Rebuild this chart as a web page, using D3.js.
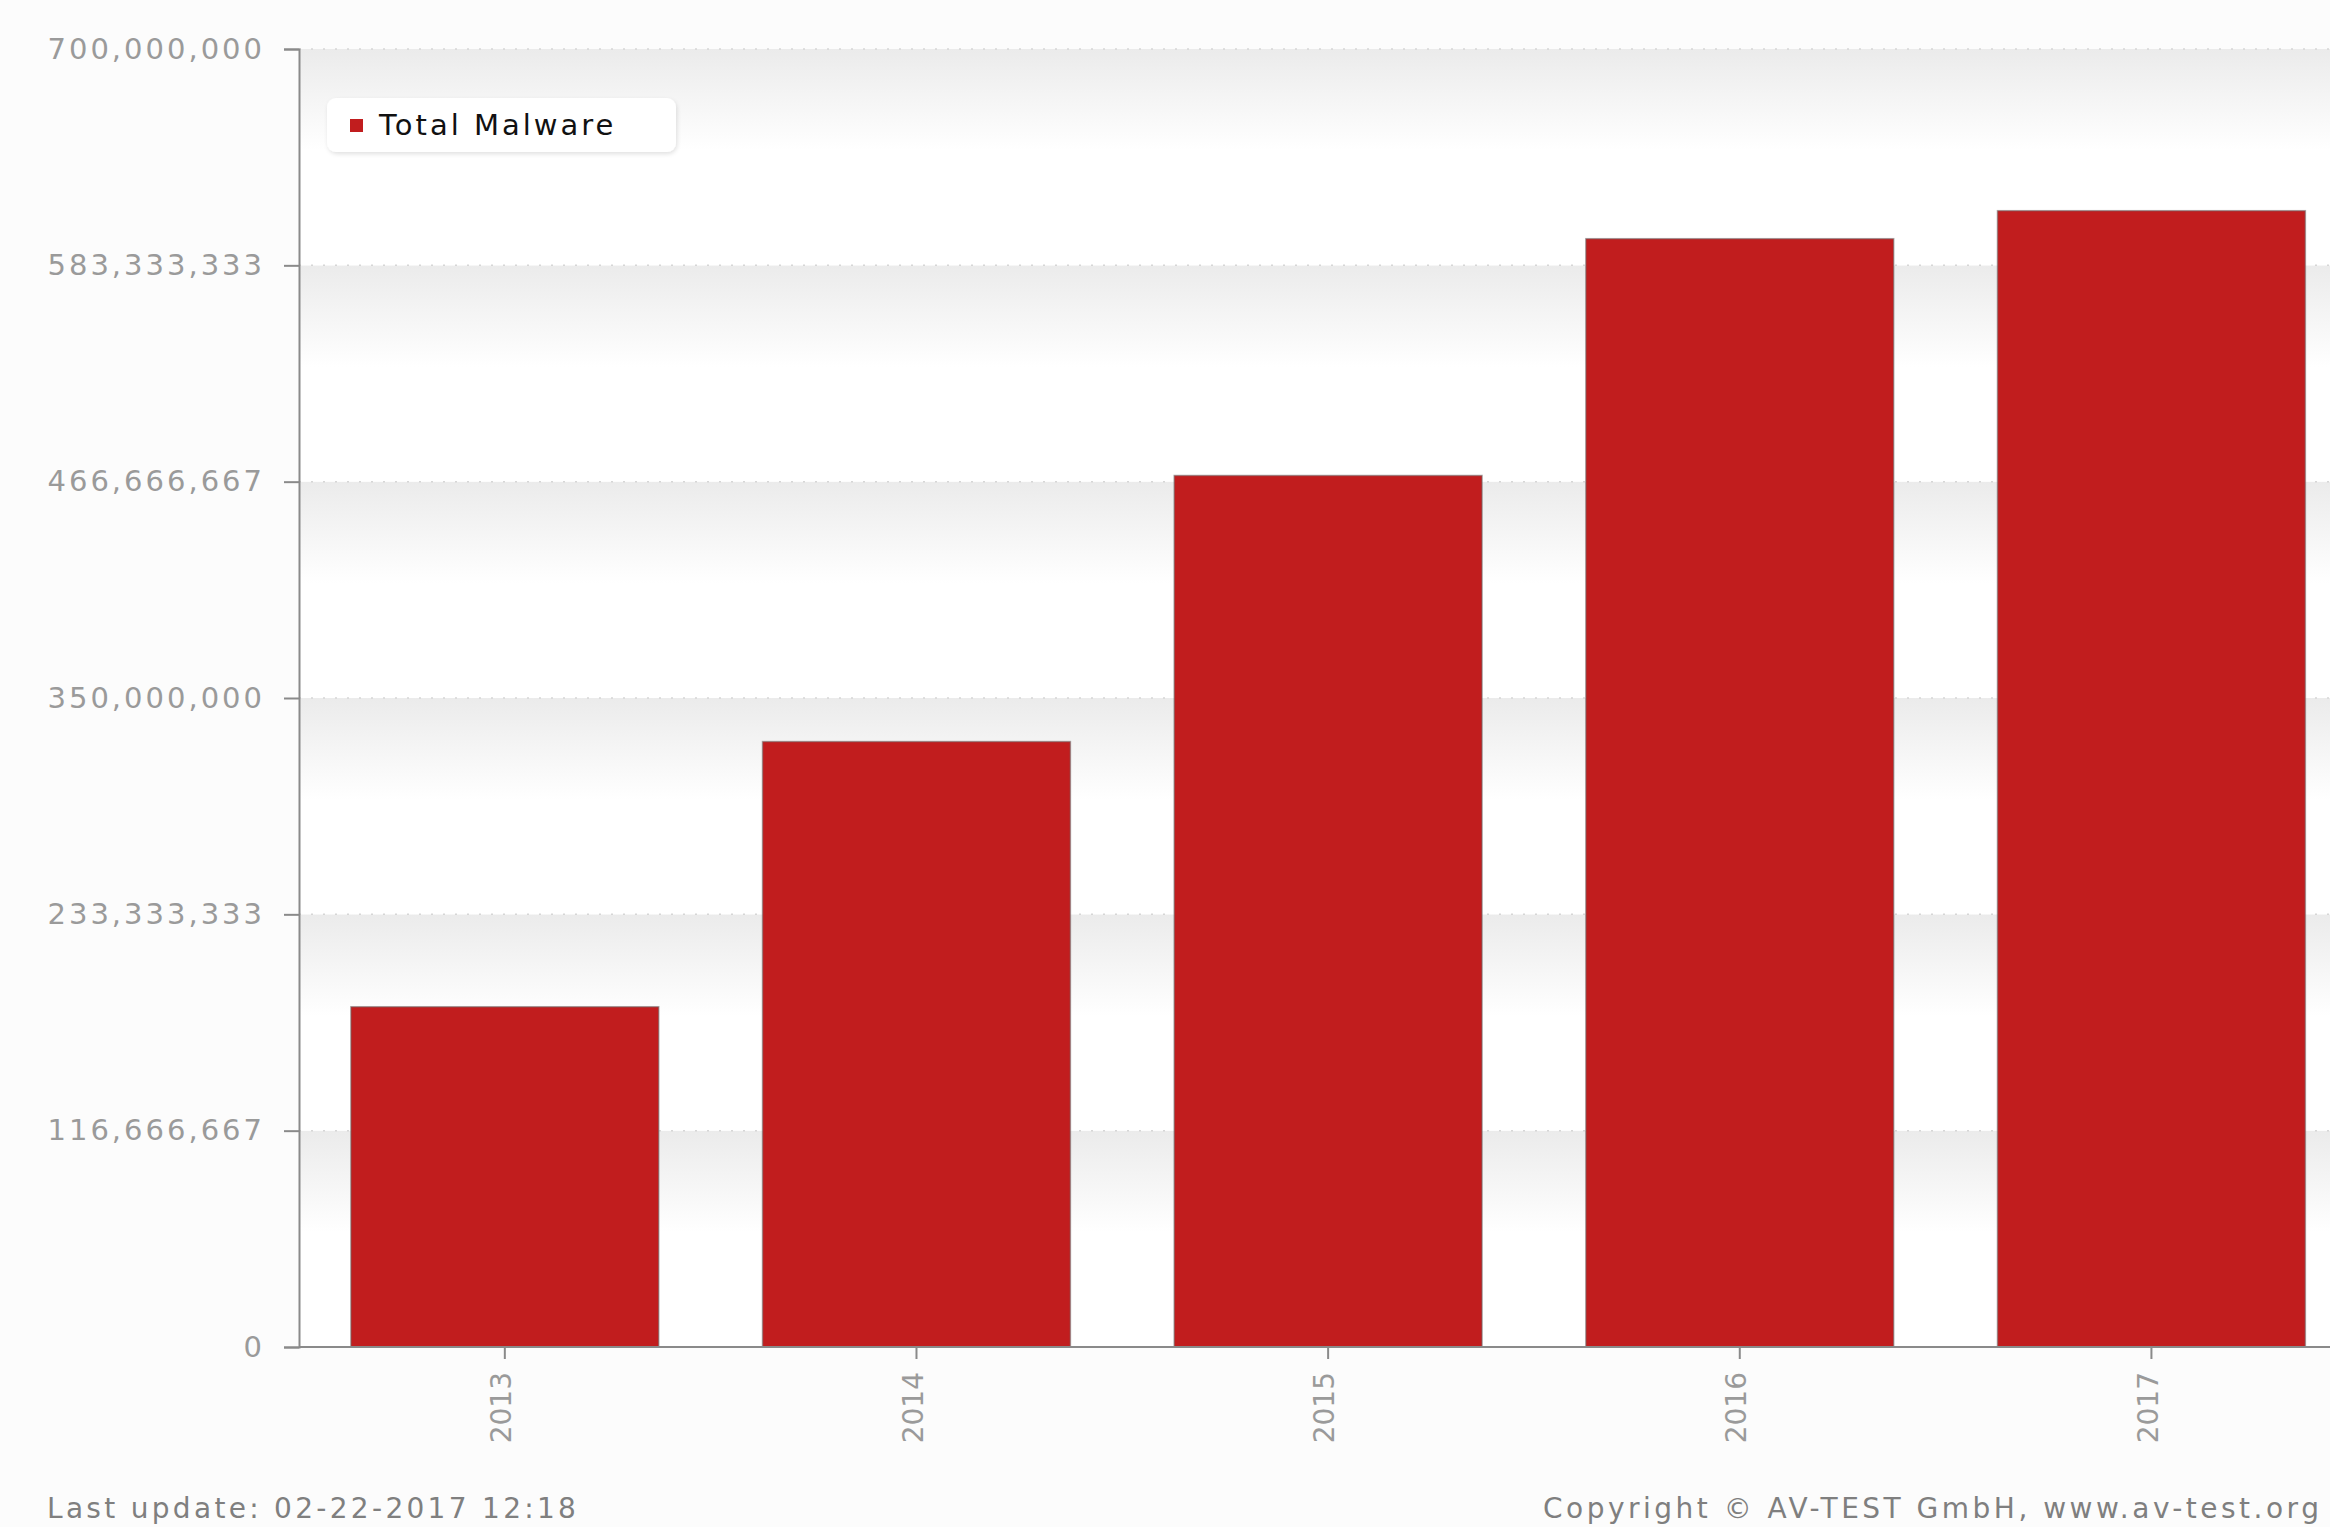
<!DOCTYPE html>
<html>
<head>
<meta charset="utf-8">
<script src="https://cdn.jsdelivr.net/npm/d3@7"></script>
<style>
  html, body { margin: 0; padding: 0; background: #fcfcfc; }
  svg { display: block; font-family: "DejaVu Sans", Verdana, sans-serif; }
</style>
</head>
<body>
<div id="chart"></div>
<script>
// data
var years = ['2013', '2014', '2015', '2016', '2017'];
var totalMalware = [183.5e6, 326.5e6, 470.0e6, 597.7e6, 612.8e6];
var yTicks = [0, 116666667, 233333333, 350000000, 466666667, 583333333, 700000000];
var seriesName = 'Total Malware';
var lastUpdate = 'Last update: 02-22-2017 12:18';
var copyright = 'Copyright \u00a9 AV-TEST GmbH, www.av-test.org';

var W = 2330, H = 1527;
var plotLeft = 299, plotTop = 49, plotBottom = 1347;
var step = 411.65; // plot runs off the right edge like the original

var svg = d3.select('#chart').append('svg')
  .attr('width', W)
  .attr('height', H);

svg.append('rect').attr('width', W).attr('height', H).attr('fill', '#fcfcfc');

var defs = svg.append('defs');
var grad = defs.append('linearGradient')
  .attr('id', 'band').attr('x1', 0).attr('y1', 0).attr('x2', 0).attr('y2', 1);
grad.append('stop').attr('offset', '0').attr('stop-color', '#ebebeb');
grad.append('stop').attr('offset', '0.47').attr('stop-color', '#ffffff');
grad.append('stop').attr('offset', '1').attr('stop-color', '#ffffff');

var shadow = defs.append('filter').attr('id', 'shadow')
  .attr('x', '-10%').attr('y', '-20%').attr('width', '120%').attr('height', '160%');
shadow.append('feDropShadow')
  .attr('dx', 1).attr('dy', 2).attr('stdDeviation', 2)
  .attr('flood-color', '#000').attr('flood-opacity', 0.12);

var x = d3.scaleBand()
  .domain(years)
  .range([plotLeft, plotLeft + step * years.length])
  .paddingInner(0.252)
  .paddingOuter(0.126);

var y = d3.scaleLinear()
  .domain([0, yTicks[yTicks.length - 1]])
  .range([plotBottom, plotTop]);

var plotRight = plotLeft + step * years.length;

// gradient bands between grid lines
var bands = d3.pairs(yTicks);
svg.append('g').selectAll('rect')
  .data(bands)
  .enter().append('rect')
  .attr('x', plotLeft)
  .attr('y', function (d) { return y(d[1]); })
  .attr('width', plotRight - plotLeft)
  .attr('height', function (d) { return y(d[0]) - y(d[1]); })
  .attr('fill', 'url(#band)');

// dotted grid lines
svg.append('g').selectAll('line')
  .data(yTicks.slice(1))
  .enter().append('line')
  .attr('x1', plotLeft).attr('x2', plotRight)
  .attr('y1', function (d) { return y(d); })
  .attr('y2', function (d) { return y(d); })
  .attr('stroke', '#d6d6d6')
  .attr('stroke-width', 1.5)
  .attr('stroke-dasharray', '2,10');

// bars
svg.append('g').selectAll('rect')
  .data(totalMalware)
  .enter().append('rect')
  .attr('x', function (d, i) { return x(years[i]); })
  .attr('y', function (d) { return y(d); })
  .attr('width', x.bandwidth())
  .attr('height', function (d) { return plotBottom - y(d); })
  .attr('fill', '#c11d1e')
  .attr('stroke', 'rgba(110,110,110,0.55)')
  .attr('stroke-width', 1.5);

// y axis
var yAxis = d3.axisLeft(y)
  .tickValues(yTicks)
  .tickSize(15)
  .tickPadding(19)
  .tickFormat(d3.format(','));

var gy = svg.append('g')
  .attr('transform', 'translate(' + plotLeft + ',0)')
  .call(yAxis);
gy.select('.domain').attr('stroke', '#8a8a8a').attr('stroke-width', 2);
gy.selectAll('.tick line').attr('stroke', '#8a8a8a').attr('stroke-width', 2);
gy.selectAll('.tick text')
  .attr('fill', '#9a9a9a')
  .attr('font-size', 29)
  .attr('font-family', '"DejaVu Sans", Verdana, sans-serif')
  .style('letter-spacing', '3px');

// x axis
var xAxis = d3.axisBottom(x)
  .tickSize(12)
  .tickSizeOuter(0)
  .tickPadding(0);

var gx = svg.append('g')
  .attr('transform', 'translate(0,' + plotBottom + ')')
  .call(xAxis);
gx.select('.domain').attr('stroke', '#8a8a8a').attr('stroke-width', 2)
  .attr('d', 'M' + plotLeft + ',0H' + plotRight);
gx.selectAll('.tick line').attr('stroke', '#8a8a8a').attr('stroke-width', 2);
gx.selectAll('.tick text')
  .attr('fill', '#9a9a9a')
  .attr('font-size', 28)
  .attr('font-family', '"DejaVu Sans", Verdana, sans-serif')
  .attr('text-anchor', 'end')
  .attr('transform', 'translate(0,25) rotate(-90)')
  .attr('x', 0).attr('y', 0)
  .attr('dy', '0.22em');

// legend
var legend = svg.append('g').attr('transform', 'translate(327,98)');
legend.append('rect')
  .attr('width', 349).attr('height', 54).attr('rx', 9)
  .attr('fill', '#ffffff')
  .attr('filter', 'url(#shadow)');
legend.append('rect')
  .attr('x', 23).attr('y', 21).attr('width', 13).attr('height', 13)
  .attr('fill', '#c11d1e');
legend.append('text')
  .attr('x', 52).attr('y', 27)
  .attr('dy', '0.36em')
  .attr('font-size', 29)
  .attr('fill', '#111')
  .style('letter-spacing', '3px')
  .text(seriesName);

// footer
svg.append('text')
  .attr('x', 47).attr('y', 1518)
  .attr('font-size', 28)
  .attr('fill', '#7f7f7f')
  .style('letter-spacing', '3.3px')
  .text(lastUpdate);

svg.append('text')
  .attr('x', 1543).attr('y', 1518)
  .attr('font-size', 28)
  .attr('fill', '#7f7f7f')
  .style('letter-spacing', '3.5px')
  .text(copyright);
</script>
</body>
</html>
